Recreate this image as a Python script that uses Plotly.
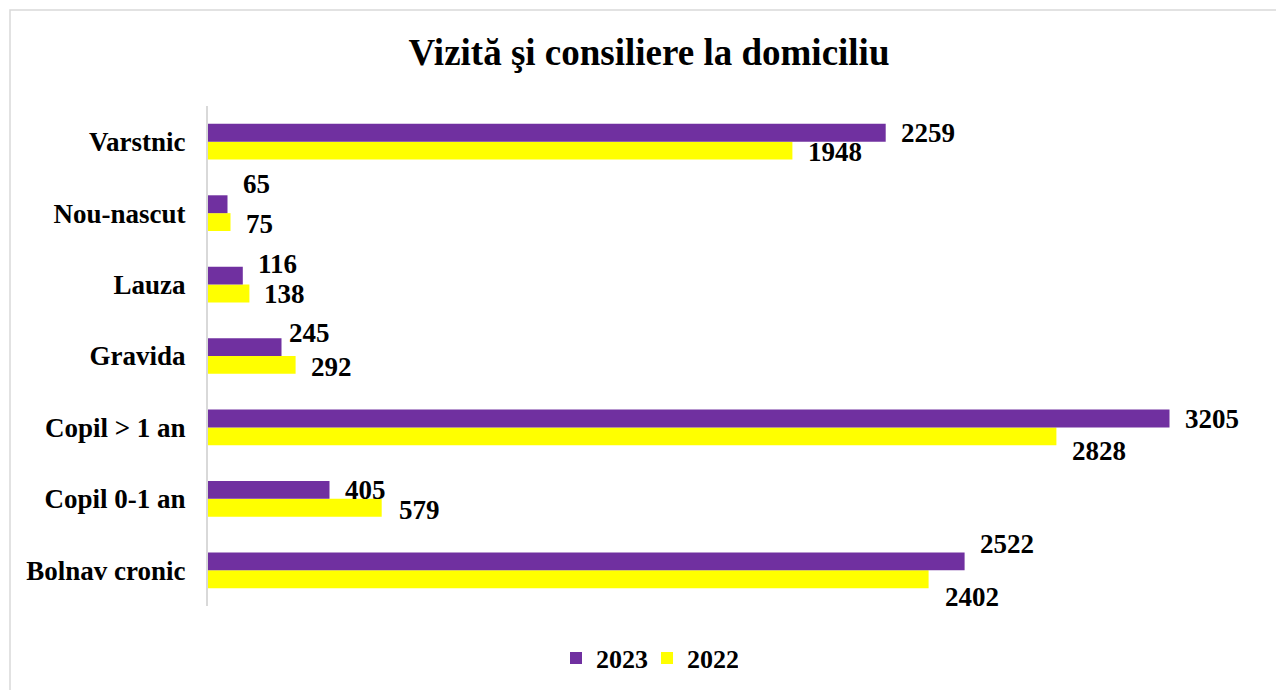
import plotly.graph_objects as go

categories = ["Bolnav cronic", "Copil 0-1 an", "Copil > 1 an", "Gravida", "Lauza", "Nou-nascut", "Varstnic"]
series_names = ["2022", "2023"]
values_2023 = [2522, 405, 3205, 245, 116, 65, 2259]
values_2022 = [2402, 579, 2828, 292, 138, 75, 1948]

# style: label offsets (pixels) per category, screen-up positive
yshift_2023 = [17, 0, 0, 14, 12, 20, 0]
yshift_2022 = [-18, -2, -15, -2, 0, -2, -1]
xshift_2023 = [13, 13, 13, 5, 13, 13, 13]
xshift_2022 = [14, 15, 14, 13, 13, 13, 14]

colors = {"2023": "#7030A0", "2022": "#FFFF00"}
FONT = "Liberation Serif, Times New Roman, serif"

fig = go.Figure()
for name, vals in zip(series_names, [values_2022, values_2023]):
    fig.add_trace(go.Bar(
        y=categories, x=vals, name=name, orientation="h",
        marker=dict(color=colors[name], line=dict(width=0)),
    ))

annotations = []
for vals, ysh, xsh, off in [(values_2023, yshift_2023, xshift_2023, 0.125),
                            (values_2022, yshift_2022, xshift_2022, -0.125)]:
    for i, (c, v) in enumerate(zip(categories, vals)):
        annotations.append(dict(
            x=v, y=i + off, xref="x", yref="y",
            text=str(v), showarrow=False, xanchor="left", yanchor="middle",
            xshift=xsh[i], yshift=ysh[i],
            font=dict(family=FONT, size=27, color="black", weight="bold"),
        ))

fig.update_layout(
    width=1276, height=690,
    paper_bgcolor="white", plot_bgcolor="white",
    margin=dict(l=208, r=18, t=106, b=84, autoexpand=False),
    barmode="group", bargap=0.5, bargroupgap=0,
    title=dict(text="Vizită şi consiliere la domiciliu", x=649/1276, xanchor="center",
               xref="container", yref="container", y=1 - 52/690, yanchor="middle",
               font=dict(family=FONT, size=37, color="black", weight="bold")),
    xaxis=dict(range=[0, 3500], visible=False, showgrid=False, zeroline=False),
    yaxis=dict(categoryorder="array", categoryarray=categories,
               range=[-0.5, len(categories) - 0.5], autorange=False,
               showline=True, linecolor="#D9D9D9", linewidth=2,
               ticks="", ticklabelstandoff=15, showgrid=False,
               tickfont=dict(family=FONT, size=27, color="black", weight="bold")),
    legend=dict(orientation="h", x=(647 - 208) / 1050, xanchor="center",
                y=-0.104, yanchor="middle", traceorder="reversed",
                entrywidth=46, entrywidthmode="pixels",
                font=dict(family=FONT, size=26, color="black", weight="bold")),
    annotations=annotations,
    shapes=[dict(type="rect", xref="paper", yref="paper",
                 x0=(10 - 208) / 1050, x1=(1290 - 208) / 1050,
                 y0=(606 - 700) / 500, y1=(606 - 10) / 500,
                 line=dict(color="#D9D9D9", width=1.5), fillcolor="rgba(0,0,0,0)",
                 layer="below")],
)

fig.write_html("out.html", config={"displayModeBar": False},
               post_script="document.body.style.margin='0';document.body.style.overflow='hidden';")
